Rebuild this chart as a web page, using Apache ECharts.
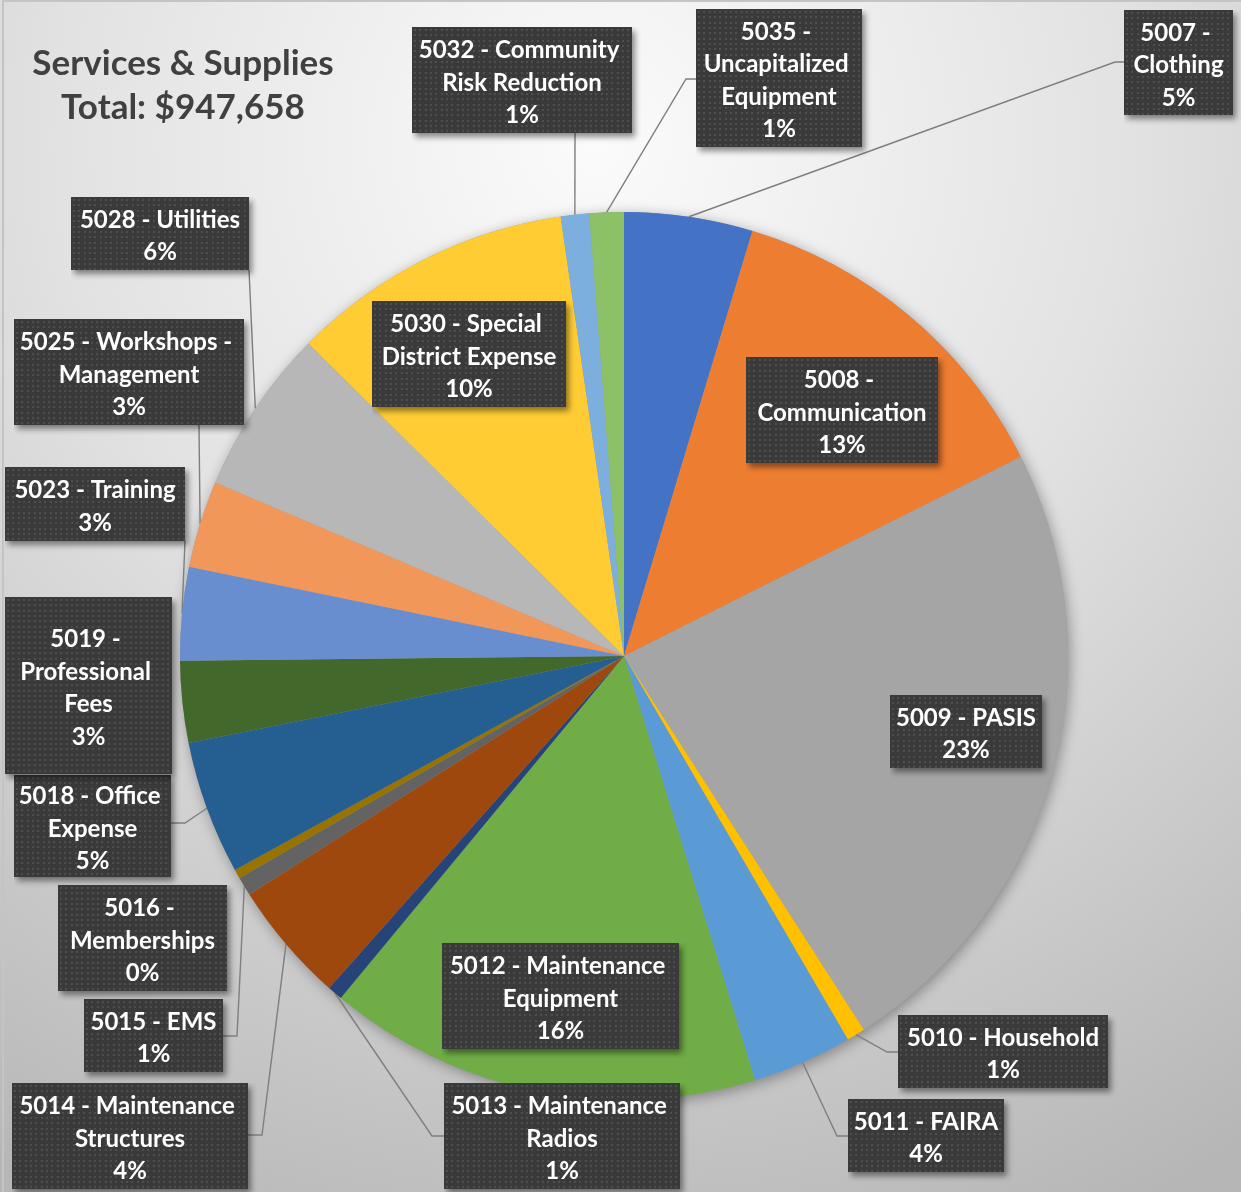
<!DOCTYPE html>
<html><head><meta charset="utf-8">
<script src="https://cdn.jsdelivr.net/npm/echarts@6/dist/echarts.min.js"></script>
<style>
html,body{margin:0;padding:0;background:#fff;}
#c{position:absolute;left:0;top:0;width:1241px;height:1192px;}
#b{position:absolute;left:2px;top:0px;width:1239px;height:1192px;border-left:2px solid #c4c4c4;border-top:2px solid #c4c4c4;pointer-events:none;box-sizing:border-box;}
</style>
</head><body><div id="c"></div><div id="b"></div>
<script>
// ---- data (clockwise from 12 o'clock) ----
const categories = [
  '5007 - Clothing', '5008 - Communication', '5009 - PASIS', '5010 - Household',
  '5011 - FAIRA', '5012 - Maintenance Equipment', '5013 - Maintenance Radios',
  '5014 - Maintenance Structures', '5015 - EMS', '5016 - Memberships',
  '5018 - Office Expense', '5019 - Professional Fees', '5023 - Training',
  '5025 - Workshops - Management', '5028 - Utilities', '5030 - Special District Expense',
  '5032 - Community Risk Reduction', '5035 - Uncapitalized Equipment'
];
const values = [
  44256, 122437, 221089, 6349,
  34495, 149541, 5212,
  41886, 6539, 3127,
  46056, 28146, 32126,
  30041, 57144, 97609,
  9761, 11844
];
const colors = [
  '#4472C4', '#ED7D31', '#A5A5A5', '#FFC000', '#5B9BD5', '#70AD47', '#264478',
  '#9E480E', '#636363', '#997300', '#255E91', '#43682B', '#698ED0', '#F1975A',
  '#B7B7B7', '#FFCD33', '#7CAFDD', '#8CC168'
];
const titleText = 'Services & Supplies';

// ---- layout (label boxes: x, y, w, h, lines) ----
const labelBoxes = [
  [1124, 10, 109, 105, 3],
  [746, 357, 192, 106, 3],
  [890, 695, 152, 73, 2],
  [898, 1015, 210, 73, 2],
  [848, 1099, 156, 73, 2],
  [442, 943, 237, 106, 3],
  [444, 1083, 236, 106, 3],
  [12, 1083, 236, 106, 3],
  [84, 999, 139, 73, 2],
  [58, 885, 169, 106, 3],
  [14, 775, 157, 102, 3],
  [5, 597, 167, 177, 4],
  [5, 467, 180, 74, 2],
  [14, 319, 230, 106, 3],
  [71, 197, 178, 73, 2],
  [372, 301, 194, 106, 3],
  [412, 27, 220, 106, 3],
  [696, 9, 166, 138, 4]
];
const labelInside = [false, true, true, false, false, true, false, false, false, false,
  false, false, false, false, false, true, false, false];
const leaderBends = [
  [[1115, 62], [1124, 62]],
  null, null,
  [[887, 1052], [898, 1052]],
  [[837, 1136], [848, 1136]],
  null,
  [[432, 1136], [444, 1136]],
  [[262, 1135], [248, 1135]],
  [[237, 1036], [223, 1036]],
  null,
  [[185, 823], [171, 823]],
  null,
  [[185, 541], [185, 541]],
  [[199, 425], [199, 425]],
  [[249, 270], [249, 270]],
  null,
  [[575, 133], [575, 133]],
  [[686, 79], [696, 79]]
];

const LH = 32.5;
const TEXT_SHIFT = 3;
const SH = 12; // room for the drop shadow inside the label image

// dotted dark box with drop shadow, drawn into a canvas used as label background
function boxCanvas(w, h) {
  const c = document.createElement('canvas');
  c.width = w + SH; c.height = h + SH;
  const g = c.getContext('2d');
  g.save();
  g.shadowColor = 'rgba(0,0,0,0.45)';
  g.shadowBlur = 6;
  g.shadowOffsetX = 3;
  g.shadowOffsetY = 4;
  g.fillStyle = '#3a3a3a';
  g.fillRect(0, 0, w, h);
  g.restore();
  g.fillStyle = '#4e4e4e';
  for (let y = 2; y < h - 1; y += 5.33) {
    for (let x = 2; x < w - 1; x += 5.33) {
      g.fillRect(Math.round(x), Math.round(y), 2, 2);
    }
  }
  return c;
}

const total = values.reduce((a, b) => a + b, 0);

const seriesData = categories.map((name, i) => {
  const b = labelBoxes[i];
  const padV = (b[3] - b[4] * LH) / 2;
  return {
    name: name,
    value: values[i],
    itemStyle: { color: colors[i] },
    label: {
      position: labelInside[i] ? 'inside' : 'outside',
      width: b[2] - 6,
      padding: [padV + TEXT_SHIFT, 3 + SH, padV - TEXT_SHIFT + SH, 3],
      backgroundColor: { image: boxCanvas(b[2], b[3]) }
    },
    labelLine: { show: !!leaderBends[i] }
  };
});

const chart = echarts.init(document.getElementById('c'), null, { renderer: 'canvas' });
chart.setOption({
  animation: false,
  backgroundColor: {
    type: 'radial', x: 0.48, y: 0.12, r: 1.0,
    colorStops: [
      { offset: 0, color: '#fbfbfb' },
      { offset: 0.45, color: '#e2e2e2' },
      { offset: 1, color: '#b6b6b6' }
    ]
  },
  graphic: [{
    type: 'text', x: 183, y: 42, z: 10,
    style: {
      text: titleText + '\nTotal: $' + total.toLocaleString('en-US'),
      align: 'center', verticalAlign: 'top',
      font: 'bold 35px Lato', lineHeight: 44, fill: '#404040'
    }
  }],
  series: [{
    type: 'pie', z: 1, silent: true,
    center: [624, 656], radius: 444, startAngle: 90,
    label: { show: false }, labelLine: { show: false },
    itemStyle: { color: '#9a9a9a', shadowBlur: 14, shadowColor: 'rgba(0,0,0,0.35)', shadowOffsetX: 2, shadowOffsetY: 3 },
    data: [{ value: total, name: 'all' }]
  }, {
    type: 'pie', z: 2,
    center: [624, 656], radius: 444, startAngle: 90, clockwise: true,
    avoidLabelOverlap: false,
    itemStyle: { borderWidth: 0 },
    label: {
      show: true,
      formatter: p => p.name + '\n' + Math.round(p.percent) + '%',
      fontFamily: 'Lato', fontWeight: 'bold', fontSize: 24, lineHeight: LH,
      color: '#ffffff', align: 'center', overflow: 'break'
    },
    labelLine: { show: true, lineStyle: { color: '#7f7f7f', width: 1.4 } },
    labelLayout: function (params) {
      const i = params.dataIndex;
      const b = labelBoxes[i];
      const out = {
        x: b[0] + (b[2] + SH) / 2,
        y: b[1],
        align: 'center',
        verticalAlign: 'top'
      };
      const bend = leaderBends[i];
      if (bend && params.labelLinePoints) {
        out.labelLinePoints = [params.labelLinePoints[0], bend[0], bend[1]];
      }
      return out;
    },
    data: seriesData
  }]
});
</script>
</body></html>
